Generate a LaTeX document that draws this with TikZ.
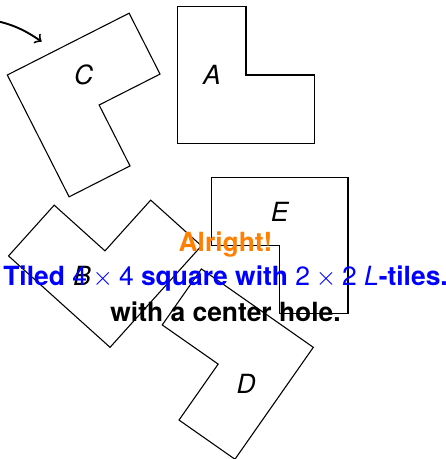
\documentclass[tikz,border=0pt]{standalone}
\usepackage{fontspec}
\setmainfont{TeX Gyre Heros}
\usepackage{tikz}

\begin{document}
\begin{tikzpicture}[
    tile/.style={draw,line width=0.45pt},
    lbl/.style={font=\fontsize{11}{13}\selectfont\itshape},
    msg/.style={anchor=base,font=\fontsize{11}{13}\selectfont\bfseries}]
        \useasboundingbox (0,0) rectangle (6.515,-6.72);
        % arrow coming in from the left
        \coordinate (arrowstart) at (-0.18,-0.28);
        \coordinate (arrowtip) at (0.61,-0.61);
        \draw[->,thick] (arrowstart) to[bend left=12] (arrowtip);
        % the five L-tiles (origin = inner corner, label in tile frame)
        \foreach \nm/\ox/\oy/\ang/\lx/\ly in {A/2.602/-2.098/0/0.5/1, B/1.611/-5.085/48/0.5/1, C/0.107/-1.098/-63.1/0.5/1, D/4.587/-5.085/145/0.5/1, E/5.095/-2.596/180/1/0.5}{
            \begin{scope}[shift={(\ox,\oy)},rotate=\ang]
                \draw[tile] (0,0)--(2,0)--(2,1)--(1,1)--(1,2)--(0,2)--cycle;
                \node[lbl] (tile\nm) at (\lx,\ly) {\nm};
            \end{scope}
        }
        % caption
        \node[msg,orange] (alright) at (3.302,-3.685) {Alright!};
        \node[msg,blue] (tiled) at (3.302,-4.187) {Tiled {\mdseries 4\hspace{.22em}$\times$\hspace{.22em}4} square with {\mdseries 2\hspace{.22em}$\times$\hspace{.22em}2 \textit{L}}-tiles.};
        \node[msg] (hole) at (3.302,-4.710) {with a center hole.};
\end{tikzpicture}
\end{document}
